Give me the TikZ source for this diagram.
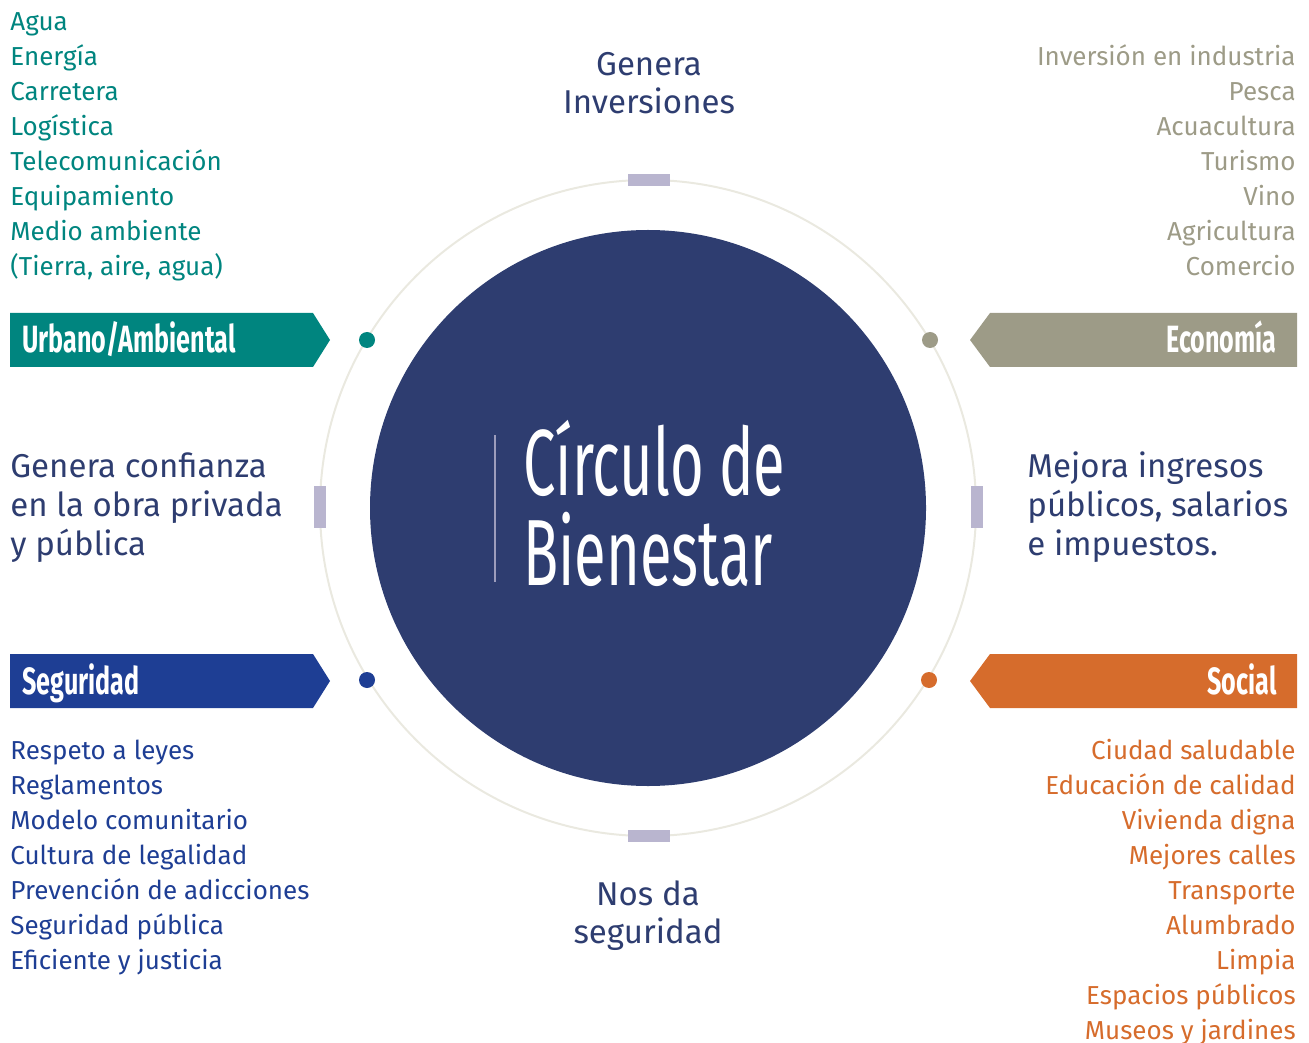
\documentclass[tikz,border=0pt]{standalone}
\usepackage{fontspec}
\usepackage{xcolor}
\usepackage{tikz}
\setmainfont{Fira Sans}
\newfontfamily\bannerfont[FakeStretch=0.66]{Fira Sans}
\newfontfamily\titlefont[FakeStretch=0.615]{Fira Sans}
\definecolor{navy}{RGB}{46,61,112}
\definecolor{urbcol}{RGB}{0,133,127}
\definecolor{ecocol}{RGB}{157,155,135}
\definecolor{segcol}{RGB}{30,62,148}
\definecolor{soccol}{RGB}{214,108,44}
\definecolor{barcol}{RGB}{185,181,207}
\definecolor{ringcol}{RGB}{234,233,224}
\newcommand{\RingR}{164pt}
\newcommand{\DiscR}{139pt}
\newcommand{\DotR}{4pt}

\begin{document}
\begin{tikzpicture}[x=0.5pt,y=-0.5pt,
  listtxt/.style={inner sep=0,font=\fontsize{13}{15}\selectfont},
  bigtxt/.style={inner sep=0,text=navy,font=\fontsize{16.5}{19}\selectfont},
  bannertxt/.style={inner sep=0,text=white,font=\bannerfont\bfseries\fontsize{19}{22}\selectfont},
  bar/.style={fill=barcol}]
\useasboundingbox (0,0) rectangle (1309,1042);
\coordinate (C) at (648,508);

\draw[ringcol,line width=1pt] (C) circle (\RingR);% Ring
\fill[navy] (C) circle (\DiscR);% Disc

% bars on the ring
\fill[bar] (628,174) rectangle (670,186);
\fill[bar] (628,830) rectangle (670,842);
\fill[bar] (314,486) rectangle (326,528);
\fill[bar] (971,486) rectangle (983,528);

% dots on the ring
\fill[urbcol] (367,340) circle (\DotR);
\fill[ecocol] (930,340) circle (\DotR);
\fill[segcol] (367,680) circle (\DotR);
\fill[soccol] (929,680) circle (\DotR);

% banners
\fill[urbcol] (10,313) -- (313,313) -- (330,340) -- (313,367) -- (10,367) -- cycle;
\fill[segcol] (10,654) -- (313,654) -- (330,681) -- (313,708) -- (10,708) -- cycle;
\fill[ecocol] (1297,313) -- (990,313) -- (970,340) -- (990,367) -- (1297,367) -- cycle;
\fill[soccol] (1297,654) -- (990,654) -- (970,681) -- (990,708) -- (1297,708) -- cycle;
\node[bannertxt,anchor=base west] (urb) at (22,353) {Urbano/Ambiental};
\node[bannertxt,anchor=base west] (seg) at (22,694) {Seguridad};
\node[bannertxt,anchor=base east] (eco) at (1277,353) {Economía};
\node[bannertxt,anchor=base east] (soc) at (1277,694) {Social};

% title
\draw[barcol!80!navy,line width=1pt] (495,435) -- (495,582);
\node[inner sep=0,anchor=base west,text=white,font=\titlefont\fontsize{47}{50}\selectfont] (tit1) at (523,495) {Círculo de};
\node[inner sep=0,anchor=base west,text=white,font=\titlefont\fontsize{47}{50}\selectfont] (tit2) at (523,585) {Bienestar};

% lists
\foreach \txt [count=\i] in {Agua,Energía,Carretera,Logística,Telecomunicación,Equipamiento,Medio ambiente,{(Tierra, aire, agua)}}
  \node[listtxt,anchor=base west,text=urbcol] (urb-\i) at (10,{31+35*(\i-1)}) {\txt};
\foreach \txt [count=\i] in {Inversión en industria,Pesca,Acuacultura,Turismo,Vino,Agricultura,Comercio}
  \node[listtxt,anchor=base east,text=ecocol] (eco-\i) at (1296,{66+35*(\i-1)}) {\txt};
\foreach \txt [count=\i] in {Respeto a leyes,Reglamentos,Modelo comunitario,Cultura de legalidad,Prevención de adicciones,Seguridad pública,Eficiente y justicia}
  \node[listtxt,anchor=base west,text=segcol] (seg-\i) at (10,{759+35*(\i-1)}) {\txt};
\foreach \txt [count=\i] in {Ciudad saludable,Educación de calidad,Vivienda digna,Mejores calles,Transporte,Alumbrado,Limpia,Espacios públicos,Museos y jardines}
  \node[listtxt,anchor=base east,text=soccol] (soc-\i) at (1296,{759+35*(\i-1)}) {\txt};

% texts round the ring
\foreach \txt [count=\i] in {Genera,Inversiones}
  \node[bigtxt,anchor=base] (inv-\i) at (649,{76+38*(\i-1)}) {\txt};
\foreach \txt [count=\i] in {Nos da,seguridad}
  \node[bigtxt,anchor=base] (nos-\i) at (648,{905+38*(\i-1)}) {\txt};
\foreach \txt [count=\i] in {Genera confianza,en la obra privada,y pública}
  \node[bigtxt,anchor=base west] (con-\i) at (10,{477+39*(\i-1)}) {\txt};
\foreach \txt [count=\i] in {Mejora ingresos,{públicos, salarios},e impuestos.}
  \node[bigtxt,anchor=base west] (ing-\i) at (1027,{477+39*(\i-1)}) {\txt};
\end{tikzpicture}
\end{document}
